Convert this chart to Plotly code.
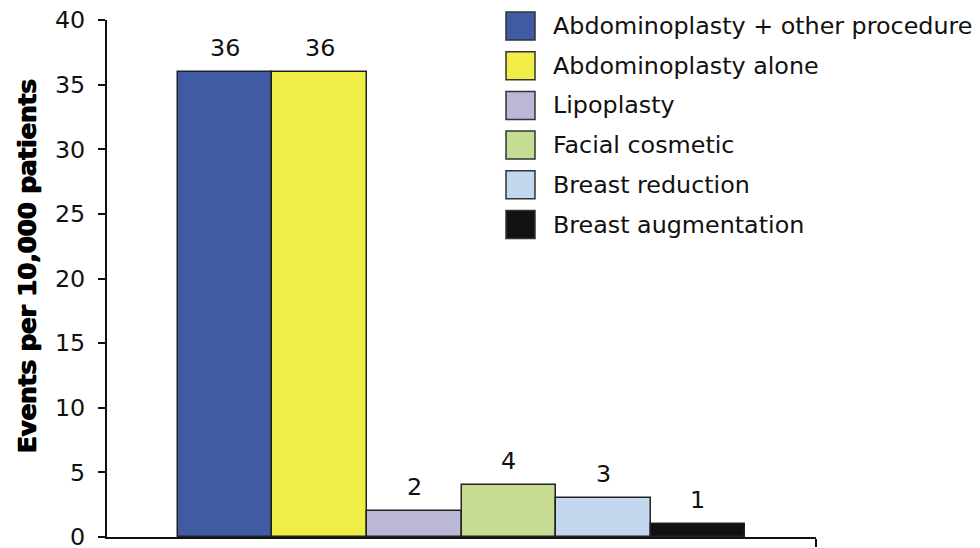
import plotly.graph_objects as go

series_names = ["Abdominoplasty + other procedure", "Abdominoplasty alone", "Lipoplasty",
                "Facial cosmetic", "Breast reduction", "Breast augmentation"]
values = [36, 36, 2, 4, 3, 1]
colors = ["#3F5BA4", "#F0EE46", "#BBB7D7", "#C5DC92", "#C3D8EE", "#111111"]
y_ticks = [0, 5, 10, 15, 20, 25, 30, 35, 40]
y_title = "Events per 10,000 patients"

W, H = 980, 548
L, R, T, B = 107, 164, 20, 11
pw, ph = W - L - R, H - T - B

def px_x(p):
    return (p - L) / pw

def px_y(p):
    return (H - B - p) / ph

FONT = "DejaVu Sans"
FS = 23.8

fig = go.Figure()
annotations = []
for i, (name, v, c) in enumerate(zip(series_names, values, colors)):
    fig.add_trace(go.Bar(
        x=[i], y=[v], width=1, name=name,
        marker=dict(color=c, line=dict(color="#222222", width=1.5)),
        showlegend=False, hoverinfo="x+y",
    ))
    annotations.append(dict(xref="x", yref="y", x=i, y=v, text=str(v), showarrow=False,
                            xanchor="center", yanchor="bottom", yshift=8,
                            font=dict(family=FONT, size=FS, color="#111111")))

shapes = []
for i, (name, c) in enumerate(zip(series_names, colors)):
    top = 12 + 39.7 * i
    shapes.append(dict(type="rect", xref="paper", yref="paper",
                       x0=px_x(506), x1=px_x(535), y0=px_y(top + 28), y1=px_y(top),
                       fillcolor=c, line=dict(color="#333333", width=1.5)))
    annotations.append(dict(xref="paper", yref="paper", x=px_x(551), y=px_y(top + 14),
                            xanchor="left", yanchor="middle", text=name, showarrow=False,
                            font=dict(family=FONT, size=FS, color="#111111")))

annotations.append(dict(xref="paper", yref="paper", x=px_x(27), y=px_y(266),
                        xanchor="center", yanchor="middle", text=y_title, showarrow=False,
                        textangle=-90,
                        font=dict(family=FONT, size=24.5, color="#000000", weight="bold",
                                  shadow="0.7px 0 0 #000, -0.7px 0 0 #000")))

fig.update_layout(
    width=W, height=H, autosize=False,
    margin=dict(l=L, r=R, t=T, b=B, autoexpand=False),
    plot_bgcolor="white", paper_bgcolor="white",
    barmode="overlay", bargap=0,
    shapes=shapes, annotations=annotations,
    xaxis=dict(range=[-1.25, 6.25], showgrid=False, zeroline=False, automargin=False,
               showline=True, linecolor="#111111", linewidth=2,
               tickmode="array", tickvals=[6.25], ticktext=[""],
               ticks="outside", ticklen=8, tickwidth=2, tickcolor="#111111"),
    yaxis=dict(range=[0, 40], showgrid=False, zeroline=False, automargin=False,
               showline=True, linecolor="#111111", linewidth=2,
               tickmode="array", tickvals=y_ticks, ticklabeloverflow="allow",
               ticks="outside", ticklen=7, tickwidth=2, tickcolor="#111111",
               ticklabelstandoff=8,
               tickfont=dict(family=FONT, size=FS, color="#111111")),
)

fig.write_html("out.html", config={"displayModeBar": False},
               post_script="document.body.style.margin='0';document.body.style.overflow='hidden';")
